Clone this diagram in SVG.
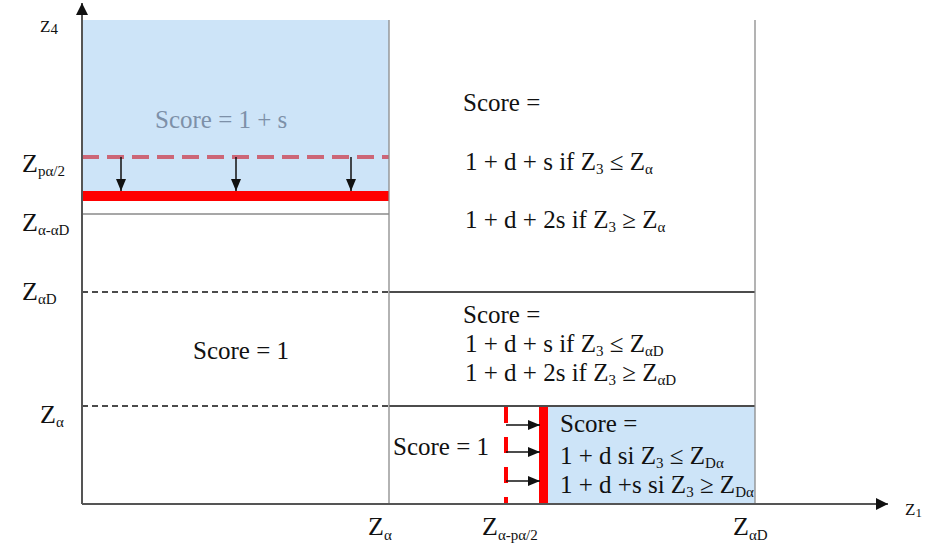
<svg xmlns="http://www.w3.org/2000/svg" width="927" height="546" viewBox="0 0 927 546">
  <defs>
    <marker id="ah" markerUnits="userSpaceOnUse" markerWidth="12" markerHeight="10" refX="12" refY="5" orient="auto">
      <path d="M0,0 L12,5 L0,10 z" fill="#111"/>
    </marker>
    <marker id="axh" markerUnits="userSpaceOnUse" markerWidth="12" markerHeight="12" refX="12" refY="6" orient="auto">
      <path d="M0,0 L12,6 L0,12 z" fill="#111"/>
    </marker>
  </defs>
  <rect width="927" height="546" fill="#fff"/>

  <g id="region-top-left">
    <rect x="82" y="20" width="307" height="176" fill="#cde4f8"/>
    <line x1="82" y1="214" x2="389" y2="214" stroke="#8a8a8a" stroke-width="1.3"/>
    <line x1="82" y1="157" x2="389" y2="157" stroke="#cc6677" stroke-width="4" stroke-dasharray="17 8"/>
    <line x1="82" y1="196" x2="389" y2="196" stroke="#ff0000" stroke-width="10"/>
    <text x="155" y="128" style="font-family:'Liberation Serif'" font-size="25" fill="#7d90a8">Score = 1 + s</text>
  </g>

  <g id="region-top-right" font-size="25" fill="#111">
    <text x="463" y="111" style="font-family:'Liberation Serif'">Score =</text>
    <text x="465" y="170" style="font-family:'Liberation Serif'">1 + d + s if Z<tspan font-size="15" dy="4">3</tspan><tspan dy="-4"> ≤ Z</tspan><tspan font-size="15" dy="4">α</tspan></text>
    <text x="465" y="228" style="font-family:'Liberation Serif'">1 + d + 2s if Z<tspan font-size="15" dy="4">3</tspan><tspan dy="-4"> ≥ Z</tspan><tspan font-size="15" dy="4">α</tspan></text>
  </g>

  <g id="region-middle-left">
    <g stroke="#111" stroke-width="1.5" stroke-dasharray="6 4">
      <line x1="82" y1="292" x2="389" y2="292"/>
      <line x1="82" y1="406" x2="389" y2="406"/>
    </g>
    <text x="193" y="359" style="font-family:'Liberation Serif'" font-size="25" fill="#111">Score = 1</text>
  </g>

  <g id="region-middle-right" font-size="25" fill="#111">
    <g stroke="#111" stroke-width="1.3">
      <line x1="389" y1="292" x2="755" y2="292"/>
      <line x1="389" y1="406" x2="755" y2="406"/>
    </g>
    <text x="463" y="323" style="font-family:'Liberation Serif'">Score =</text>
    <text x="465" y="352" style="font-family:'Liberation Serif'">1 + d + s if Z<tspan font-size="15" dy="4">3</tspan><tspan dy="-4"> ≤ Z</tspan><tspan font-size="15" dy="4">αD</tspan></text>
    <text x="465" y="381" style="font-family:'Liberation Serif'">1 + d + 2s if Z<tspan font-size="15" dy="4">3</tspan><tspan dy="-4"> ≥ Z</tspan><tspan font-size="15" dy="4">αD</tspan></text>
  </g>

  <g id="region-bottom-mid">
    <text x="393" y="455" style="font-family:'Liberation Serif'" font-size="25" fill="#111">Score = 1</text>
    <line x1="506" y1="407" x2="506" y2="504" stroke="#ff0000" stroke-width="4" stroke-dasharray="16 14"/>
  </g>

  <g id="region-bottom-right" font-size="25" fill="#111">
    <rect x="548" y="407" width="207" height="97" fill="#cde4f8"/>
    <line x1="543.5" y1="407" x2="543.5" y2="504" stroke="#ff0000" stroke-width="9"/>
    <text x="560" y="432" style="font-family:'Liberation Serif'">Score =</text>
    <text x="560" y="464" style="font-family:'Liberation Serif'">1 + d si Z<tspan font-size="15" dy="4">3</tspan><tspan dy="-4"> ≤ Z</tspan><tspan font-size="15" dy="4">Dα</tspan></text>
    <text x="560" y="493" style="font-family:'Liberation Serif'">1 + d +s si Z<tspan font-size="15" dy="4">3</tspan><tspan dy="-4"> ≥ Z</tspan><tspan font-size="15" dy="4">Dα</tspan></text>
  </g>

  <g id="frame-lines" stroke="#8a8a8a" stroke-width="1.3">
    <line x1="389" y1="20" x2="389" y2="504"/>
    <line x1="755" y1="20" x2="755" y2="504"/>
  </g>

  <g id="axes" stroke="#555" stroke-width="2" marker-end="url(#axh)">
    <line x1="82" y1="504" x2="82" y2="3"/>
    <line x1="82" y1="504" x2="888" y2="504"/>
  </g>

  <g id="axis-labels" font-size="26" fill="#111">
    <text x="40" y="32" style="font-family:'Liberation Serif'" font-size="17">Z<tspan dy="2" font-size="15">4</tspan></text>
    <text x="22" y="172" style="font-family:'Liberation Serif'">Z<tspan font-size="15" dy="4">pα/2</tspan></text>
    <text x="22" y="231" style="font-family:'Liberation Serif'">Z<tspan font-size="15" dy="4">α-αD</tspan></text>
    <text x="22" y="300" style="font-family:'Liberation Serif'">Z<tspan font-size="15" dy="4">αD</tspan></text>
    <text x="40" y="423" style="font-family:'Liberation Serif'">Z<tspan font-size="15" dy="4">α</tspan></text>
    <text x="368" y="535" style="font-family:'Liberation Serif'">Z<tspan font-size="15" dy="5">α</tspan></text>
    <text x="482" y="535" style="font-family:'Liberation Serif'">Z<tspan font-size="15" dy="5">α-pα/2</tspan></text>
    <text x="733" y="535" style="font-family:'Liberation Serif'">Z<tspan font-size="15" dy="5">αD</tspan></text>
    <text x="905" y="515" style="font-family:'Liberation Serif'" font-size="17">Z<tspan dy="2" font-size="13">1</tspan></text>
  </g>

  <g id="connectors" stroke="#111" stroke-width="1.5" marker-end="url(#ah)">
    <line x1="121" y1="157" x2="121" y2="191"/>
    <line x1="236" y1="157" x2="236" y2="191"/>
    <line x1="351" y1="157" x2="351" y2="191"/>
    <line x1="506" y1="425" x2="540" y2="425"/>
    <line x1="506" y1="452" x2="540" y2="452"/>
    <line x1="506" y1="481" x2="540" y2="481"/>
  </g>
</svg>
